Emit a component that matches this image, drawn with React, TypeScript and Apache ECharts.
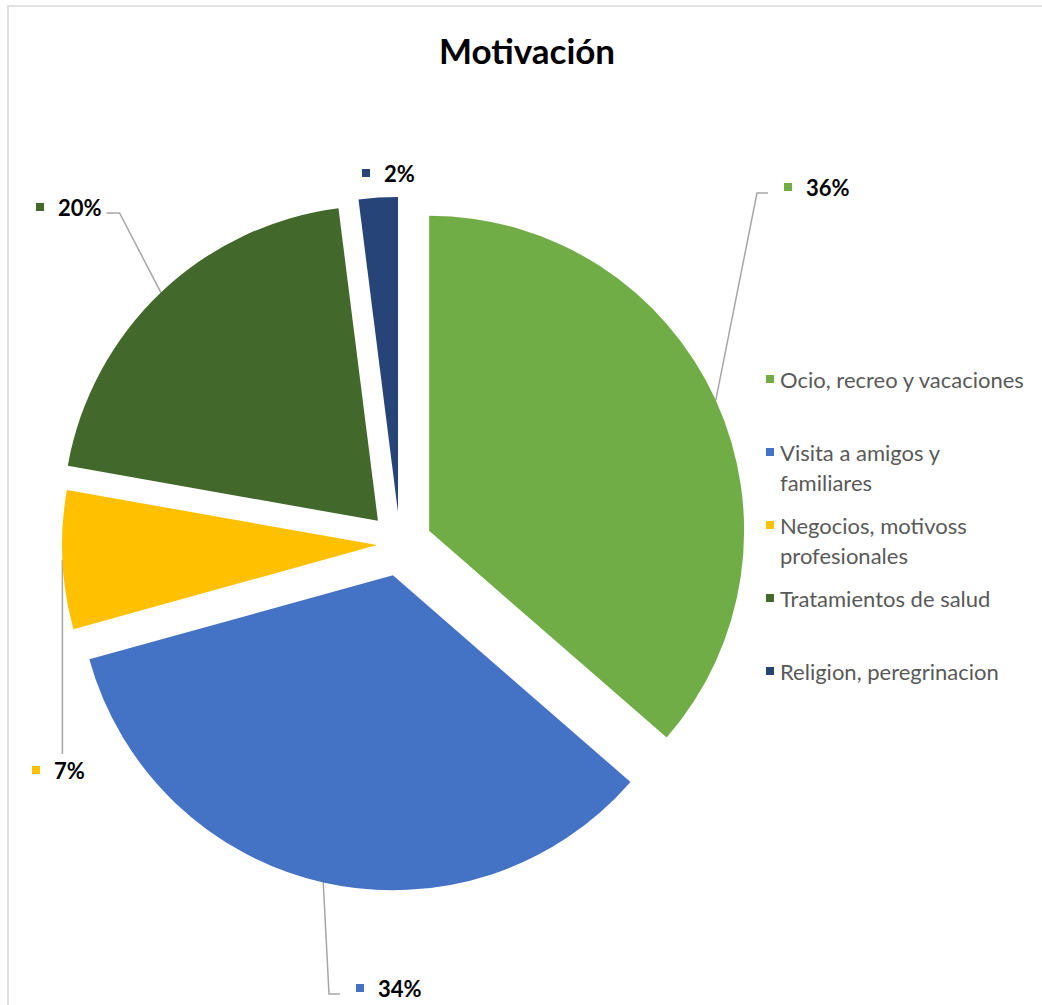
import React, { useEffect, useRef } from 'react';
import * as echarts from 'echarts';

const categories = [
  'Ocio, recreo y vacaciones',
  'Visita a amigos y familiares',
  'Negocios, motivoss profesionales',
  'Tratamientos de salud',
  'Religion, peregrinacion',
];
const legendLines = [
  ['Ocio, recreo y vacaciones'],
  ['Visita a amigos y', 'familiares'],
  ['Negocios, motivoss', 'profesionales'],
  ['Tratamientos de salud'],
  ['Religion, peregrinacion'],
];
const values = [36.4, 34.3, 7.1, 20.2, 2.0];
const colors = ['#70AD47', '#4472C4', '#FFC000', '#43682B', '#264478'];

// ---- layout (not data) ----
const PIE_CENTER: [number, number] = [400, 544];
const PIE_RADIUS = 315;
const explode = [32, 32, 23, 32, 32];
// label spot: left edge of marker, vertical centre; side where the leader line enters
const labelSpots: [number, number][] = [
  [784, 187],
  [356, 988],
  [32, 770],
  [36, 207],
  [362, 173],
];
const labelSides = ['left', 'left', 'top', 'right', 'none'];

export default function App() {
  const ref = useRef<HTMLDivElement>(null);
  useEffect(() => {
    const chart = echarts.init(ref.current!, undefined, { renderer: 'svg' });

    const total = values.reduce((a, b) => a + b, 0);
    let acc = 0;
    const mids = values.map((v) => {
      const m = ((acc + v / 2) / total) * Math.PI * 2;
      acc += v;
      return m;
    });
    const centers = mids.map((m, i) => [
      PIE_CENTER[0] + explode[i] * Math.sin(m),
      PIE_CENTER[1] - explode[i] * Math.cos(m),
    ]);
    const anchors = mids.map((m, i) => [
      centers[i][0] + PIE_RADIUS * Math.sin(m),
      centers[i][1] - PIE_RADIUS * Math.cos(m),
    ]);

    const rich: any = {
      v: { fontFamily: 'Lato', fontSize: 22, fontWeight: 'bold', color: '#000', padding: [0, 0, 0, 14] },
    };
    colors.forEach((c, i) => {
      rich['m' + i] = { width: 8, height: 8, backgroundColor: c };
    });
    const legendRich: any = {
      t: { fontFamily: 'Lato', fontSize: 22, color: '#595959', lineHeight: 30, padding: [0, 0, 0, 6] },
      g: { width: 8, height: 8 },
    };
    colors.forEach((c, i) => {
      legendRich['m' + i] = { width: 8, height: 8, backgroundColor: c };
    });

    const legends = categories.map((name, i) => ({
      orient: 'vertical',
      left: 761,
      top: 368 + 73 * i,
      padding: 0,
      icon: 'none',
      itemWidth: 0,
      itemHeight: 8,
      selectedMode: false,
      data: [name],
      formatter: (n: string) => {
        const k = categories.indexOf(n);
        const ls = legendLines[k];
        const l1 = `{m${k}|}{t|${ls[0]}}`;
        return ls[1] ? l1 + '\n' + `{g|}{t|${ls[1]}}` : l1;
      },
      textStyle: { rich: legendRich },
    }));

    const series = categories.map((_, s) => ({
      type: 'pie',
      center: centers[s],
      radius: PIE_RADIUS,
      startAngle: 90,
      clockwise: true,
      avoidLabelOverlap: false,
      silent: true,
      emphasis: { disabled: true },
      itemStyle: { borderWidth: 0 },
      data: categories.map((name, i) => ({
        name,
        value: values[i],
        itemStyle: { color: i === s ? colors[i] : 'rgba(0,0,0,0)', borderWidth: 0 },
        label: { show: i === s },
        labelLine: { show: i === s && labelSides[i] !== 'none' },
      })),
      label: {
        position: 'outside',
        formatter: (p: any) => `{m${p.dataIndex}|}{v|${Math.round(p.percent)}%}`,
        rich,
      },
      labelLine: {
        length: 20,
        length2: 12,
        lineStyle: { color: '#a6a6a6', width: 1.5 },
      },
      labelLayout: (p: any) => {
        const i = p.dataIndex;
        const [x, y] = labelSpots[i];
        const a = anchors[i];
        const w = p.labelRect ? p.labelRect.width : 60;
        const side = labelSides[i];
        let pts: number[][] | undefined;
        if (side === 'left') pts = [a, [x - 27, y + 6], [x - 16, y + 6]];
        else if (side === 'right') pts = [a, [x + w + 18, y + 6], [x + w + 5, y + 6]];
        else if (side === 'top') pts = [a, [a[0], y - 16]];
        const out: any = { x, y, align: 'left', verticalAlign: 'middle' };
        if (pts) out.labelLinePoints = pts;
        return out;
      },
    }));

    chart.setOption({
      animation: false,
      backgroundColor: '#fff',
      title: {
        text: 'Motivación',
        left: 522,
        top: 27,
        textAlign: 'center',
        textStyle: { fontFamily: 'Lato', fontSize: 35, fontWeight: 'bold', color: '#000' },
      },
      graphic: [
        {
          type: 'rect',
          shape: { x: 8, y: 6, width: 1200, height: 1200 },
          style: { fill: 'none', stroke: '#d9d9d9', lineWidth: 1.5 },
          silent: true,
        },
      ],
      legend: legends,
      series,
    });
    return () => chart.dispose();
  }, []);
  return <div ref={ref} style={{ position: 'absolute', left: 0, top: 0, width: 1042, height: 1005 }} />;
}
